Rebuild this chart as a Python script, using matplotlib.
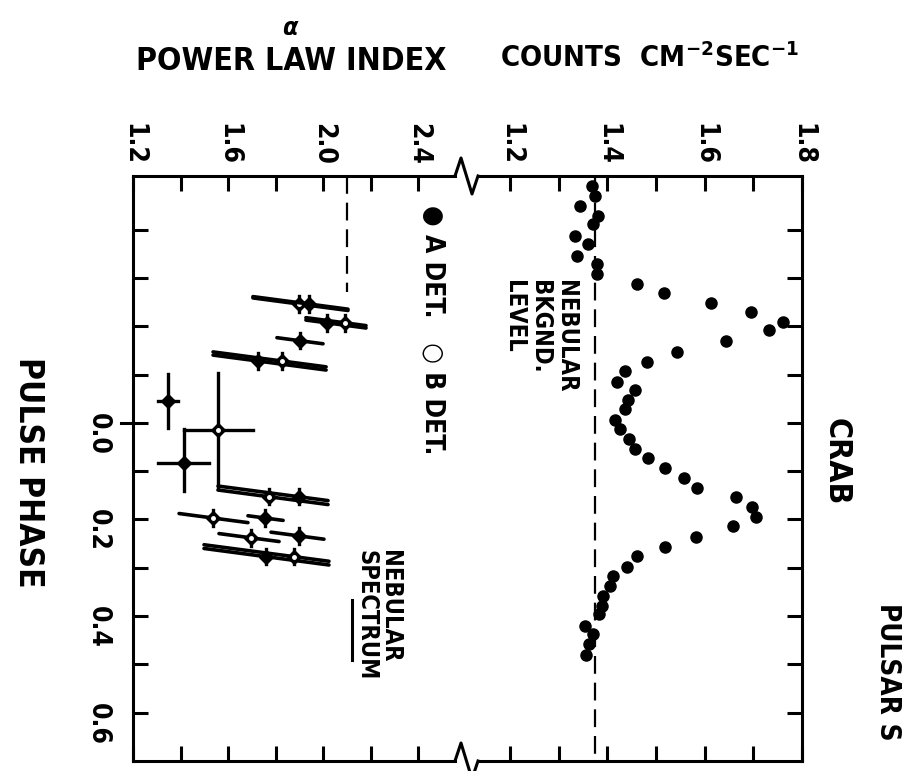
import matplotlib
matplotlib.use('Agg')
import matplotlib.pyplot as plt
from matplotlib.lines import Line2D

plt.rcParams['font.family'] = ['DejaVu Sans']
plt.rcParams['font.stretch'] = 'condensed'
plt.rcParams['font.weight'] = 'bold'

# --- Crab pulsar light curve (counts cm^-2 sec^-1 vs pulse phase) ---
count_phase = [-0.491, -0.470, -0.449, -0.428, -0.412, -0.387, -0.371, -0.346, -0.329, -0.308,
               -0.288, -0.269, -0.248, -0.230, -0.209, -0.193, -0.170, -0.147, -0.126, -0.108,
               -0.085, -0.068, -0.048, -0.029, -0.006, 0.012, 0.033, 0.054, 0.072, 0.093,
               0.114, 0.135, 0.153, 0.174, 0.195, 0.213, 0.236, 0.257, 0.275, 0.298,
               0.317, 0.337, 0.358, 0.379, 0.395, 0.420, 0.437, 0.457, 0.480]
count_rate = [1.369, 1.375, 1.344, 1.381, 1.370, 1.334, 1.360, 1.338, 1.379, 1.379,
              1.461, 1.517, 1.613, 1.695, 1.761, 1.732, 1.644, 1.543, 1.482, 1.436,
              1.420, 1.457, 1.442, 1.436, 1.416, 1.426, 1.445, 1.457, 1.484, 1.519,
              1.558, 1.584, 1.664, 1.697, 1.705, 1.658, 1.582, 1.519, 1.461, 1.440,
              1.412, 1.406, 1.391, 1.389, 1.383, 1.354, 1.370, 1.362, 1.356]
nebular_level = 1.375

# --- power law index, narrow phase bins ---
pl_phase = [-0.246, -0.246, -0.207, -0.207, -0.170, -0.128, -0.128,
            0.153, 0.153, 0.197, 0.197, 0.238, 0.234, 0.277, 0.277]
pl_index = [1.899, 1.941, 2.017, 2.093, 1.903, 1.726, 1.827,
            1.773, 1.899, 1.537, 1.756, 1.697, 1.899, 1.760, 1.878]
pl_lo = [1.705, 1.705, 1.928, 1.928, 1.806, 1.537, 1.537,
         1.558, 1.558, 1.394, 1.684, 1.562, 1.781, 1.499, 1.499]
pl_hi = [2.105, 2.105, 2.181, 2.181, 2.000, 2.013, 2.013,
         2.021, 2.021, 1.684, 1.832, 1.815, 2.004, 2.025, 2.025]
pl_det = ['B', 'A', 'A', 'B', 'A', 'A', 'B', 'B', 'A', 'B', 'A', 'B', 'A', 'A', 'B']

# --- power law index, wide phase bins (interpulse region) ---
wide_phase = [-0.046, 0.083, 0.014]
wide_ph_lo = [-0.101, 0.012, -0.104]
wide_ph_hi = [0.010, 0.141, 0.137]
wide_index = [1.347, 1.415, 1.558]
wide_lo = [1.305, 1.305, 1.415]
wide_hi = [1.389, 1.520, 1.705]
wide_det = ['A', 'A', 'B']

nebular_index = 2.1
nebular_phase_end = -0.27

W, H = 915, 771
fig = plt.figure(figsize=(9.15, 7.71), dpi=100)


def fx(px):
    return px / W


def fy(py):
    return 1 - py / H


left, junc, right, top, bottom = 133, 466, 802, 176, 761
ax1 = fig.add_axes([fx(left), fy(bottom), fx(junc) - fx(left), fy(top) - fy(bottom)])
ax2 = fig.add_axes([fx(junc), fy(bottom), fx(right) - fx(junc), fy(top) - fy(bottom)], sharey=ax1)

ax1.set_xlim(1.2, 2.602)
ax2.set_xlim(1.1093, 1.8)
ax1.set_ylim(0.7, -0.511)

lw = 2.2
for ax in (ax1, ax2):
    for s in ax.spines.values():
        s.set_linewidth(lw)
    ax.patch.set_alpha(0)
ax1.spines['right'].set_visible(False)
ax2.spines['left'].set_visible(False)
ax1.spines['top'].set_bounds(1.2, 2.556)
ax1.spines['bottom'].set_bounds(1.2, 2.556)
ax2.spines['top'].set_bounds(1.134, 1.8)
ax2.spines['bottom'].set_bounds(1.134, 1.8)

# x ticks
ax1.set_xticks([1.2, 1.6, 2.0, 2.4])
ax1.set_xticks([1.4, 1.8, 2.2], minor=True)
ax1.set_xticklabels(['1.2', '1.6', '2.0', '2.4'])
ax2.set_xticks([1.2, 1.4, 1.6, 1.8])
ax2.set_xticks([1.3, 1.5, 1.7], minor=True)
ax2.set_xticklabels(['1.2', '1.4', '1.6', '1.8'])
for ax in (ax1, ax2):
    ax.tick_params(axis='x', which='both', direction='in', length=11, width=lw,
                   top=True, bottom=True, labeltop=True, labelbottom=False)
    ax.tick_params(axis='x', which='major', labelrotation=-90, labelsize=19, pad=8)

# y ticks
ax1.set_yticks([0.0, 0.2, 0.4, 0.6])
ax1.set_yticklabels(['0.0', '0.2', '0.4', '0.6'])
ax1.set_yticks([-0.4, -0.3, -0.2, -0.1, 0.1, 0.3, 0.5], minor=True)
ax1.tick_params(axis='y', which='both', direction='in', length=11, width=lw,
                left=True, right=False)
ax1.tick_params(axis='y', which='major', labelrotation=-90, labelsize=19, pad=16)
ax2.tick_params(axis='y', which='both', direction='in', length=11, width=lw,
                left=False, right=True, labelleft=False, labelright=False)
# outward extension of the zero-phase tick
ax1.plot([-0.035, 0], [0, 0], color='k', lw=lw, transform=ax1.get_yaxis_transform(), clip_on=False)

# counts panel
ax2.plot(count_rate, count_phase, 'o', color='k', ms=8, zorder=3)
ax2.plot([nebular_level, nebular_level], [-0.511, 0.7], color='k', lw=1.6, dashes=(8, 4))

# power law index panel
ax1.plot([nebular_index, nebular_index], [-0.511, nebular_phase_end], color='k', lw=1.6, dashes=(8, 4))
tilt = 0.065
for ph, idx, lo, hi, det in zip(pl_phase, pl_index, pl_lo, pl_hi, pl_det):
    ax1.plot([lo, hi], [ph + tilt * (lo - idx), ph + tilt * (hi - idx)], color='k', lw=2.6,
             solid_capstyle='round')
    ax1.plot([idx, idx], [ph - 0.016, ph + 0.016], color='k', lw=2.4)
    ax1.plot(idx, ph, 'D', color='k', ms=7)
    if det == 'B':
        ax1.plot(idx, ph, 'o', color='white', ms=2.5)
for ph, plo, phi, idx, lo, hi, det in zip(wide_phase, wide_ph_lo, wide_ph_hi, wide_index,
                                          wide_lo, wide_hi, wide_det):
    ax1.plot([lo, hi], [ph, ph], color='k', lw=2.4)
    ax1.plot([idx, idx], [plo, phi], color='k', lw=2.4)
    ax1.plot(idx, ph, 'D', color='k', ms=7)
    if det == 'B':
        ax1.plot(idx, ph, 'o', color='white', ms=2.5)

# axis break marks
for ys in ([176, 158, 194, 176], [761, 743, 779, 761]):
    xs = [455, 461, 472, 478]
    fig.add_artist(Line2D([fx(x) for x in xs], [fy(y) for y in ys], color='k', lw=lw,
                          transform=fig.transFigure))

# titles and labels
fig.text(fx(291), fy(61), 'POWER LAW INDEX', ha='center', va='center', fontsize=23)
fig.text(fx(290), fy(28), 'α', ha='center', va='center', fontsize=18, style='italic')
fig.text(fx(650), fy(58), 'COUNTS  CM$^{-2}$SEC$^{-1}$', ha='center', va='center', fontsize=21)
fig.text(fx(28), fy(472), 'PULSE PHASE', ha='center', va='center', rotation=-90, fontsize=24)
fig.text(fx(836), fy(462), 'CRAB', ha='center', va='center', rotation=-90, fontsize=23)
fig.text(fx(888), fy(603), 'PULSAR S', ha='center', va='top', rotation=-90, fontsize=20)
fig.text(fx(433), fy(205), '● A DET.   ○ B DET.', ha='center', va='top', rotation=-90, fontsize=19)
fig.text(fx(540), fy(280), 'NEBULAR\nBKGND.\nLEVEL', ha='center', va='top', rotation=-90,
         fontsize=17, multialignment='left', linespacing=1.1)
fig.text(fx(378), fy(550), 'NEBULAR\nSPECTRUM', ha='center', va='top', rotation=-90,
         fontsize=17, multialignment='left', linespacing=0.95)
fig.add_artist(Line2D([fx(352), fx(352)], [fy(600), fy(660)], color='k', lw=lw,
                      transform=fig.transFigure))

fig.savefig('out.png', dpi=100)
